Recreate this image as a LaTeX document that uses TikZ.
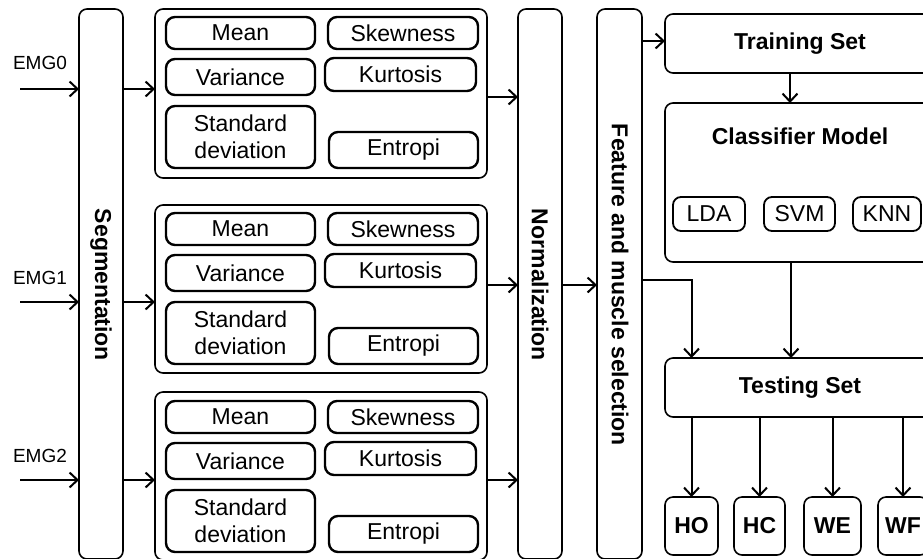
\documentclass[tikz,border=0pt]{standalone}
\usepackage{fontspec}
\setmainfont{Liberation Sans}
\usetikzlibrary{arrows.meta}
\newcommand\fsz{\fontsize{23}{27}\selectfont}
\newcommand\fsl{\fontsize{19}{22}\selectfont}
% box by corners: style, name, x1, y1, x2, y2, text
\newcommand\bx[7]{\node[#1, minimum width={((#5)-(#3))*1pt}, minimum height={((#6)-(#4))*1pt}] (#2) at ({((#3)+(#5))/2},{((#4)+(#6))/2}) {#7};}
\tikzset{
  base/.style={draw, rounded corners=8pt, inner sep=0pt, outer sep=0pt, line width=1.6pt, align=center, font=\fsz},
  barbox/.style={base},
  grpbox/.style={base},
  featbox/.style={base, line width=2.4pt, rounded corners=9pt},
  rbox/.style={base, font=\fsz\bfseries},
  algbox/.style={base, line width=1.8pt},
  arr/.style={-{Straight Barb[length=8pt,width=15pt]}, line width=2pt},
  vtext/.style={rotate=-90, font=\fsz\bfseries, inner sep=0pt},
  emglabel/.style={font=\fsl, inner sep=0pt},
}
\begin{document}
\begin{tikzpicture}[x=1pt,y=-1pt]
\useasboundingbox (0,0) rectangle (923,558);
\clip (0,0) rectangle (923,558);
% vertical bars
\bx{barbox}{seg}{79}{9}{123}{559}{}
\bx{barbox}{norm}{518}{9}{562}{559}{}
\bx{barbox}{feat}{597}{9}{642}{559}{}
\node[vtext] at (101,285) {Segmentation};
\node[vtext] at (540,285) {Normalization};
\node[vtext] at (620,285) {Feature and muscle selection};
% group boxes
\bx{grpbox}{g1}{155}{9}{487}{178}{}
\bx{grpbox}{g2}{155}{205}{487}{373}{}
\bx{grpbox}{g3}{155}{392}{487}{560}{}
\foreach \o/\g in {0/1,196/2,384/3}{
  \bx{featbox}{mean\g}{166}{17+\o}{315}{49+\o}{Mean}
  \bx{featbox}{var\g}{166}{59+\o}{315}{95+\o}{Variance}
  \bx{featbox}{std\g}{166}{106+\o}{315}{168+\o}{Standard\\deviation}
  \bx{featbox}{skew\g}{328}{17+\o}{478}{49+\o}{Skewness}
  \bx{featbox}{kurt\g}{325}{58+\o}{476}{91+\o}{Kurtosis}
  \bx{featbox}{ent\g}{329}{132+\o}{478}{168+\o}{Entropi}
}
% inputs
\node[emglabel] (l0) at (40,63) {EMG0};
\node[emglabel] (l1) at (40,278) {EMG1};
\node[emglabel] (l2) at (40,456) {EMG2};
\coordinate (in0) at (20,89);
\coordinate (in1) at (20,302);
\coordinate (in2) at (20,480);
\draw[arr] (in0) -- (seg.west |- in0);
\draw[arr] (in1) -- (seg.west |- in1);
\draw[arr] (in2) -- (seg.west |- in2);
\draw[arr] (seg.east |- 0,89) -- (g1.west |- 0,89);
\draw[arr] (seg.east |- 0,302) -- (g2.west |- 0,302);
\draw[arr] (seg.east |- 0,480) -- (g3.west |- 0,480);
\draw[arr] (g1.east |- 0,97) -- (norm.west |- 0,97);
\draw[arr] (g2.east |- 0,285) -- (norm.west |- 0,285);
\draw[arr] (g3.east |- 0,480) -- (norm.west |- 0,480);
\draw[arr] (norm.east |- 0,285) -- (feat.west |- 0,285);
% right side
\bx{rbox}{train}{665}{14}{935}{73}{Training Set}
\bx{rbox}{clf}{665}{103}{935}{262}{}
\node[font=\fsz\bfseries, inner sep=0pt] (clft) at (800,136) {Classifier Model};
\bx{algbox}{lda}{673}{197}{745}{231}{LDA}
\bx{algbox}{svm}{764}{197}{835}{231}{SVM}
\bx{algbox}{knn}{853}{197}{921}{231}{KNN}
\bx{rbox}{test}{665}{358}{935}{417}{Testing Set}
\bx{rbox}{ho}{665}{497}{718}{555}{HO}
\bx{rbox}{hc}{734}{497}{785}{555}{HC}
\bx{rbox}{we}{804}{497}{861}{555}{WE}
\bx{rbox}{wf}{878}{497}{928}{555}{WF}
\draw[arr] (feat.east |- 0,41) -- (train.west |- 0,41);
\draw[arr] (train.south -| 790,0) -- (clf.north -| 790,0);
\draw[arr] (feat.east |- 0,280) -| (test.north -| ho);
\draw[arr] (clf.south -| 791,0) -- (test.north -| 791,0);
\foreach \n in {ho,hc,we,wf}{
  \draw[arr] (test.south -| \n) -- (\n.north);
}
\end{tikzpicture}
\end{document}
